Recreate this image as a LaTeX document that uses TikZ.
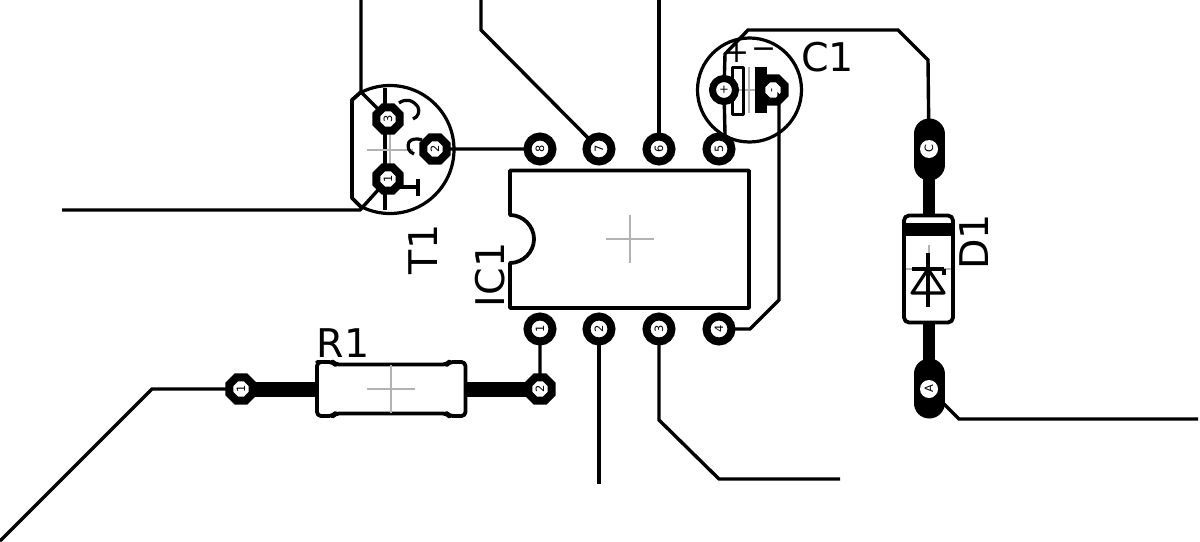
\documentclass[tikz,border=0pt]{standalone}
\usepackage{fontspec}
\setmainfont{DejaVu Sans}
\usetikzlibrary{shapes.geometric}
\newcommand{\pxu}{0.02cm}
\tikzset{
  x=0.02cm,y=-0.02cm,
  wire/.style={draw=black,line width=3.4*\pxu,line join=miter},
  thinline/.style={draw=black,line width=3.2*\pxu,line join=round},
  lead/.style={draw=black,line width=14*\pxu},
  crossmark/.style={draw=black!30,line width=1.2*\pxu},
  outline/.style={draw=black,line width=3.8*\pxu,line join=round},
  padbase/.style={fill=white,draw=black,inner sep=0pt,outer sep=0pt,font=\fontsize{6.5}{6.5}\selectfont,rotate=90},
  pad/.style={padbase,circle,line width=8*\pxu,minimum size=25*\pxu},
  octpad/.style={padbase,regular polygon,regular polygon sides=8,line width=8*\pxu,minimum size=25*\pxu},
  holepad/.style={padbase,circle,draw=none,minimum size=18*\pxu},
  label/.style={font=\fontsize{22.5}{22.5}\selectfont,inner sep=0pt},
  silk/.style={circle,draw=black,line width=3.2*\pxu,inner sep=0pt,fill=none},
}
\begin{document}
\begin{tikzpicture}
\useasboundingbox[fill=white] (0,0) rectangle (1200,541);

% coordinates for free wire ends and bends
\coordinate (w1a) at (361,0);   \coordinate (w1b) at (361,92);
\coordinate (w2a) at (62,210);  \coordinate (w2b) at (360,210);
\coordinate (w3a) at (481,0);   \coordinate (w3b) at (481,30);
\coordinate (w4a) at (659,0);
\coordinate (w5a) at (725,54);  \coordinate (w5b) at (748,30);
\coordinate (w5c) at (898,30);  \coordinate (w5d) at (928,60);
\coordinate (w6a) at (779,300); \coordinate (w6b) at (750,329);
\coordinate (w6c) at (779,96);
\coordinate (w7a) at (0,541);   \coordinate (w7b) at (152,389);
\coordinate (w8a) at (599,484);
\coordinate (w9a) at (659,420); \coordinate (w9b) at (719,479); \coordinate (w9c) at (840,479);
\coordinate (w10a) at (959,419);\coordinate (w10b) at (1198,419);
\coordinate (w5e) at (725,134);

% component pads positions
\coordinate (pc1) at (929,149);
\coordinate (pa1) at (929,389);
\coordinate (rp1) at (241,389);
\coordinate (rp2) at (540,389);

% transistor body
\node[silk,minimum size=128*\pxu] (t1body) at (390,149.5) {};
\fill[white] (315,80) -- (361,80) -- (361,92) -- (352,100) -- (352,198) -- (362,208) -- (362,220) -- (315,220) -- cycle;
\draw[outline] (361,92) -- (352,100) -- (352,198) -- (362,208);
\draw[outline] (385,88) -- (385,210);
\draw[crossmark] (367,150) -- (413,150) (390,127) -- (390,173);
\draw[thinline] (399,103) .. controls (406,98) and (413,100) .. (418,107) .. controls (420,112) and (418,117) .. (413,119);
\draw[thinline] (414,154) .. controls (408,152) and (407,146) .. (409,142) .. controls (411,139) and (417,138) .. (422,140);
\draw[thinline] (400,187) -- (418,187) (418,179) -- (418,196);

% C1 body
\node[silk,minimum size=104*\pxu] (c1body) at (749.5,90) {};
\draw[crossmark] (735,90) -- (765,90) (749,67) -- (749,113);
\draw[outline,line width=3*\pxu] (732,67) rectangle (743,114);
\fill[black] (755,67) rectangle (767,113);
\node[font=\fontsize{17}{17}\selectfont,inner sep=0pt] (cplus) at (737,53) {+};
\node[font=\fontsize{17}{17}\selectfont,inner sep=0pt] (cminus) at (764,53) {−};

% D1 leads and body
\draw[lead,line width=12*\pxu] (pc1) -- (929,220);
\draw[lead,line width=12*\pxu] (929,320) -- (pa1);
\draw[line width=31*\pxu,line cap=round] (929,134) -- (929,165);
\draw[line width=31*\pxu,line cap=round] (929,374) -- (929,403);
\draw[outline,fill=white,rounded corners=5*\pxu] (904,215.5) rectangle (953,322.5);
\fill[black] (904,223) rectangle (953,236);
\draw[crossmark] (906,269) -- (951,269) (929,245) -- (929,293);
\draw[thinline] (928,253) -- (928,307);
\draw[thinline] (912,269) -- (944,269) (944,269) -- (944,275);
\draw[thinline] (928,269) -- (944,293) -- (912,293) -- cycle;

% R1 leads and body
\draw[lead,line width=15*\pxu] (rp1) -- (320,389);
\draw[lead,line width=15*\pxu] (462,389) -- (rp2);
\draw[outline,fill=white,rounded corners=4*\pxu] (321,362) -- (333,362) -- (335,364.5) -- (447,364.5) -- (449,362) -- (465.5,362) -- (465.5,416) -- (449,416) -- (447,413.5) -- (335,413.5) -- (333,416) -- (317,416) -- (317,362) -- cycle;
\draw[crossmark] (367,389) -- (415,389) (391,365) -- (391,413);

% IC body
\draw[outline,fill=white] (510,215) .. controls (523,215) and (534,226) .. (534,239) .. controls (534,252) and (523,263) .. (510,263) -- (510,308) -- (749,308) -- (749,170.5) -- (510,170.5) -- cycle;
\draw[crossmark] (606,239) -- (654,239) (630,215) -- (630,263);

% pads
\node[pad] (ic1) at (540,329) {1};
\node[pad] (ic2) at (599,329) {2};
\node[pad] (ic3) at (659,329) {3};
\node[pad] (ic4) at (719,329) {4};
\node[pad] (ic5) at (719,149) {5};
\node[pad] (ic6) at (659,149) {6};
\node[pad] (ic7) at (599,149) {7};
\node[pad] (ic8) at (540,149) {8};
\node[octpad] (t3) at (388,119) {3};
\node[octpad] (t2) at (435,149) {2};
\node[octpad] (t1) at (388,179) {1};
\node[pad,line width=7*\pxu,minimum size=23*\pxu] (cp) at (724,90) {+};
\node[octpad] (cm) at (773,90) {-};
\node[octpad] (r1) at (rp1) {1};
\node[octpad] (r2) at (rp2) {2};
\node[holepad] (dc) at (pc1) {C};
\node[holepad] (da) at (pa1) {A};

% connectors
\draw[wire] (w1a) -- (w1b) -- (t3);
\draw[wire] (w2a) -- (w2b) -- (t1);
\draw[wire] (t2) -- (ic8);
\draw[wire] (w3a) -- (w3b) -- (ic7);
\draw[wire] (w4a) -- (ic6);
\draw[wire] (cp) -- (w5e) -- (ic5);
\draw[wire] (cp) -- (w5a) -- (w5b) -- (w5c) -- (w5d) -- (dc);
\draw[wire] (cm) -- (w6c) -- (w6a) -- (w6b) -- (ic4);
\draw[wire] (w7a) -- (w7b) -- (r1);
\draw[wire] (ic1) -- (r2);
\draw[wire] (ic2) -- (w8a);
\draw[wire] (ic3) -- (w9a) -- (w9b) -- (w9c);
\draw[wire] (da) -- (w10a) -- (w10b);

% labels
\node[label] (lc1) at (827.5,57) {C1};
\node[label] (lr1) at (343,343.5) {R1};
\node[label,rotate=90] (lt1) at (423,249.5) {T1};
\node[label,rotate=90] (lic1) at (490,275) {IC1};
\node[label,rotate=90] (ld1) at (974,242) {D1};
\end{tikzpicture}
\end{document}
